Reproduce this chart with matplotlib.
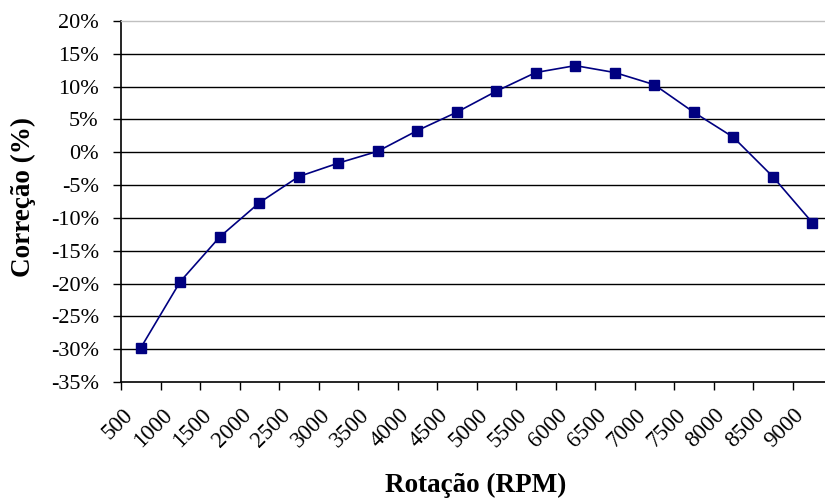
import matplotlib
matplotlib.use("Agg")
import matplotlib.pyplot as plt
import matplotlib.transforms as mtransforms
import numpy as np

plt.rcParams['font.family'] = ['Liberation Serif', 'DejaVu Serif']

# data
rpm = ['500', '1000', '1500', '2000', '2500', '3000', '3500', '4000', '4500',
       '5000', '5500', '6000', '6500', '7000', '7500', '8000', '8500', '9000']
correcao = [-29.8, -19.7, -12.9, -7.7, -3.7, -1.65, 0.15, 3.3, 6.1,
            9.3, 12.15, 13.2, 12.15, 10.3, 6.1, 2.3, -3.7, -10.7]
yticks = [-35, -30, -25, -20, -15, -10, -5, 0, 5, 10, 15, 20]

fig = plt.figure(figsize=(8.25, 5), dpi=100)
# plot area runs slightly past the right edge, as in the original
ax = fig.add_axes([121 / 825, 1 - 382 / 500, 711 / 825, 361 / 500])

x = np.arange(len(rpm))
ax.plot(x, correcao, color='#000080', lw=1.2, marker='s', markersize=7.3,
        markerfacecolor='#000080', markeredgecolor='#000080', zorder=3)

ax.set_ylim(-35, 20)
ax.set_yticks(yticks)
ax.set_yticklabels(['%d%%' % v for v in yticks])
for v in yticks[1:-1]:
    ax.axhline(v, color='black', lw=1.0, zorder=1)

ax.set_xlim(-0.5, len(rpm) - 0.5)
# tick marks between categories, labels at category centres
ax.set_xticks(np.arange(len(rpm) + 1) - 0.5)
ax.set_xticklabels([])
ax.set_xticks(x, minor=True)
ax.set_xticklabels(rpm, minor=True, rotation=45, ha='right')

ax.tick_params(axis='x', which='major', direction='out', length=6, width=1.0, color='black')
ax.tick_params(axis='x', which='minor', length=0, pad=16, labelsize=16.5)
ax.tick_params(axis='y', direction='out', length=6, width=1.0, pad=10, labelsize=16)

shift = mtransforms.ScaledTranslation(-4 / 100, 0, fig.dpi_scale_trans)
for lab in ax.get_xticklabels(minor=True):
    lab.set_transform(lab.get_transform() + shift)

for side in ['left', 'bottom']:
    ax.spines[side].set_color('black')
    ax.spines[side].set_linewidth(1.2)
ax.spines['top'].set_color('#c0c0c0')
ax.spines['top'].set_linewidth(1.0)
ax.spines['right'].set_visible(False)

fig.text(23 / 825, 1 - 197 / 500, 'Correção (%)', rotation=90, ha='center', va='center',
         fontsize=19.5, fontweight='bold')
fig.text(476 / 825, 1 - 485 / 500, 'Rotação (RPM)', ha='center', va='center',
         fontsize=19.5, fontweight='bold')

fig.savefig('out.png', dpi=100)
